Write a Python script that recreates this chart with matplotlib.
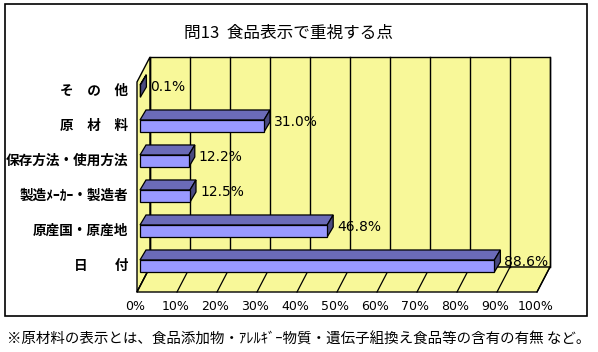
import matplotlib
matplotlib.use("Agg")
import matplotlib.pyplot as plt
from matplotlib import patches

plt.rcParams['font.family'] = ['Noto Sans CJK JP', 'DejaVu Sans']

# data (bottom to top)
categories = ['日　　付', '原産国・原産地', '製造ﾒｰｶｰ・製造者', '保存方法・使用方法', '原　材　料', 'そ　の　他']
values = [88.6, 46.8, 12.5, 12.2, 31.0, 0.1]
x_ticks = [0, 10, 20, 30, 40, 50, 60, 70, 80, 90, 100]
title = '問13  食品表示で重視する点'
note = '※原材料の表示とは、食品添加物・ｱﾚﾙｷﾞｰ物質・遺伝子組換え食品等の含有の有無 など。'

# 3d look (data units: % along x, category step along y)
WALL = (3.25, 0.714)      # full depth of the floor / left wall
FRONT = (-0.75, -0.743)   # floor front corner relative to bar plane
BAR_H = 0.343
BAR_D = (1.5, 0.286)
YTOP = 5.971

yellow = '#F8F899'
c_front = '#9999FF'
c_top = '#6B6BB8'
c_side = '#4A4A80'

W, H = 598, 352
fig = plt.figure(figsize=(W / 100, H / 100), dpi=100)
fig.patch.set_facecolor('white')
ax = fig.add_axes([140 / W, (H - 292) / H, 400 / W, 235 / H])
ax.set_xlim(0, 100)
ax.set_ylim(FRONT[1], YTOP)
ax.axis('off')

# outer frame
fig.add_artist(patches.Rectangle((5 / W, 1 - 316 / H), 582 / W, 312 / H,
                                 transform=fig.transFigure, fill=False,
                                 edgecolor='black', lw=1.2))

bx0 = FRONT[0] + WALL[0]
by0 = FRONT[1] + WALL[1]
xmax = x_ticks[-1]

# walls and floor
back = patches.Polygon([(bx0, by0), (bx0 + xmax, by0), (bx0 + xmax, YTOP), (bx0, YTOP)],
                       closed=True, facecolor=yellow, edgecolor='black', lw=1, clip_on=False, zorder=1)
left = patches.Polygon([(FRONT[0], FRONT[1]), (bx0, by0), (bx0, YTOP), (FRONT[0], YTOP - WALL[1])],
                       closed=True, facecolor=yellow, edgecolor='black', lw=1, clip_on=False, zorder=1)
floor = patches.Polygon([(FRONT[0], FRONT[1]), (FRONT[0] + xmax, FRONT[1]),
                         (bx0 + xmax, by0), (bx0, by0)],
                        closed=True, facecolor=yellow, edgecolor='black', lw=1, clip_on=False, zorder=1)
for p in (back, left, floor):
    ax.add_patch(p)

for t in x_ticks:
    ax.plot([bx0 + t, bx0 + t], [by0, YTOP], color='black', lw=1, zorder=2, clip_on=False)
    ax.plot([FRONT[0] + t, bx0 + t], [FRONT[1], by0], color='black', lw=0.9, zorder=2, clip_on=False)
    ax.text(FRONT[0] + t - 0.4, FRONT[1] - 0.40, f'{t}%', ha='center', va='center',
            fontsize=9, family='DejaVu Sans', color='black')

# bars
for i, v in enumerate(values):
    y0 = i - BAR_H / 2
    y1 = i + BAR_H / 2
    dx, dy = BAR_D
    ax.add_patch(patches.Polygon([(0, y1), (v, y1), (v + dx, y1 + dy), (dx, y1 + dy)],
                                 closed=True, facecolor=c_top, edgecolor='black', lw=0.9,
                                 clip_on=False, zorder=3))
    ax.add_patch(patches.Polygon([(v, y0), (v + dx, y0 + dy), (v + dx, y1 + dy), (v, y1)],
                                 closed=True, facecolor=c_side, edgecolor='black', lw=0.9,
                                 clip_on=False, zorder=3))
    ax.add_patch(patches.Rectangle((0, y0), v, BAR_H, facecolor=c_front, edgecolor='black',
                                   lw=0.9, clip_on=False, zorder=4))
    ax.text(v + dx + 1.0, i + 0.12, f'{v:.1f}%', ha='left', va='center', fontsize=10,
            family='DejaVu Sans', zorder=5)
    ax.text(-3, i, categories[i], ha='right', va='center', fontsize=9.8, fontweight='bold')

fig.text(289 / W, 1 - 33 / H, title, ha='center', va='center', fontsize=12)
fig.text(7 / W, 1 - 340 / H, note, ha='left', va='center', fontsize=10.45)

fig.savefig('out.png', dpi=100)
